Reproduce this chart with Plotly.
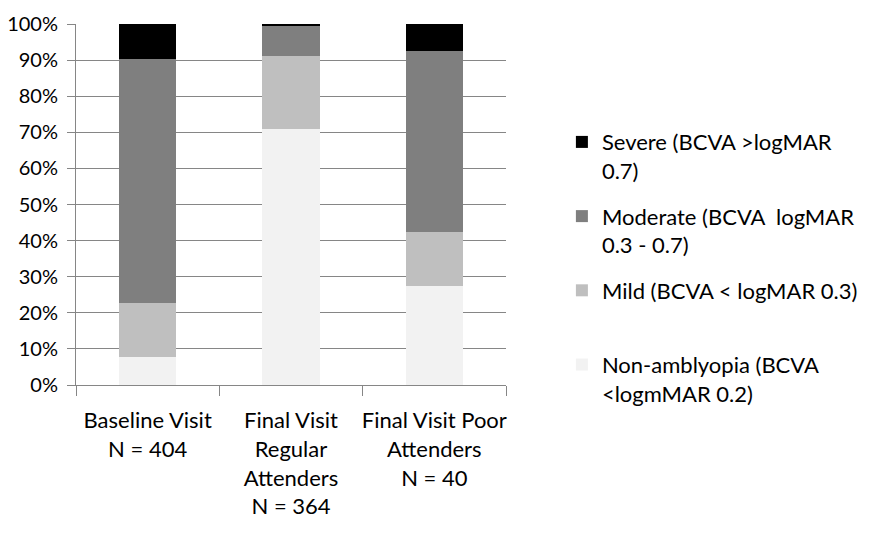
import plotly.graph_objects as go

categories = ["Baseline Visit<br>N = 404",
              "Final Visit<br>Regular<br>Attenders<br>N = 364",
              "Final Visit Poor<br>Attenders<br>N = 40"]

non_amblyopia = [7.7, 70.9, 27.5]
mild = [15.1, 20.3, 15.0]
moderate = [67.6, 8.2, 50.0]
severe = [9.6, 0.6, 7.5]

series_names = ["Non-amblyopia (BCVA<br><logmMAR 0.2)",
                "Mild (BCVA < logMAR 0.3)<br> ",
                "Moderate (BCVA  logMAR<br>0.3 - 0.7)",
                "Severe (BCVA >logMAR<br>0.7)"]
series_values = [non_amblyopia, mild, moderate, severe]
series_colors = ["#f2f2f2", "#bfbfbf", "#7f7f7f", "#000000"]
legend_ranks = [4, 3, 2, 1]

FONT = "Lato"
FS = 22

fig = go.Figure()
for name, vals, col, rank in zip(series_names, series_values, series_colors, legend_ranks):
    fig.add_trace(go.Bar(x=categories, y=vals, name=name, legendgroup=name,
                         legendrank=rank,
                         marker=dict(color=col, line=dict(width=0)),
                         hoverinfo="y"))

fig.update_layout(
    width=890, height=540, autosize=False,
    barmode="stack", bargap=0.6,
    plot_bgcolor="white", paper_bgcolor="white",
    margin=dict(l=68, r=392, t=16, b=163, autoexpand=False),
    font=dict(family=FONT, size=FS, color="#000000"),
    legend=dict(x=1.13, xanchor="left", y=0.731, yanchor="top",
                traceorder="grouped", valign="top",
                tracegroupgap=14, font=dict(size=FS, family=FONT),
                bgcolor="rgba(0,0,0,0)"),
    showlegend=True,
)
fig.update_xaxes(showline=True, linecolor="#868686", linewidth=1,
                 ticks="outside", tickson="boundaries", ticklen=10,
                 tickcolor="#868686", showgrid=False, tickangle=0,
                 ticklabelstandoff=16,
                 tickfont=dict(size=FS, family=FONT))
fig.update_yaxes(range=[0, 100], dtick=10, ticksuffix="%",
                 showline=True, linecolor="#868686", linewidth=1,
                 ticks="outside", ticklen=8, tickcolor="#868686",
                 showgrid=True, gridcolor="#868686", gridwidth=1,
                 ticklabelstandoff=5,
                 zeroline=False, tickfont=dict(size=20, family=FONT))

fig.write_html("out.html")
